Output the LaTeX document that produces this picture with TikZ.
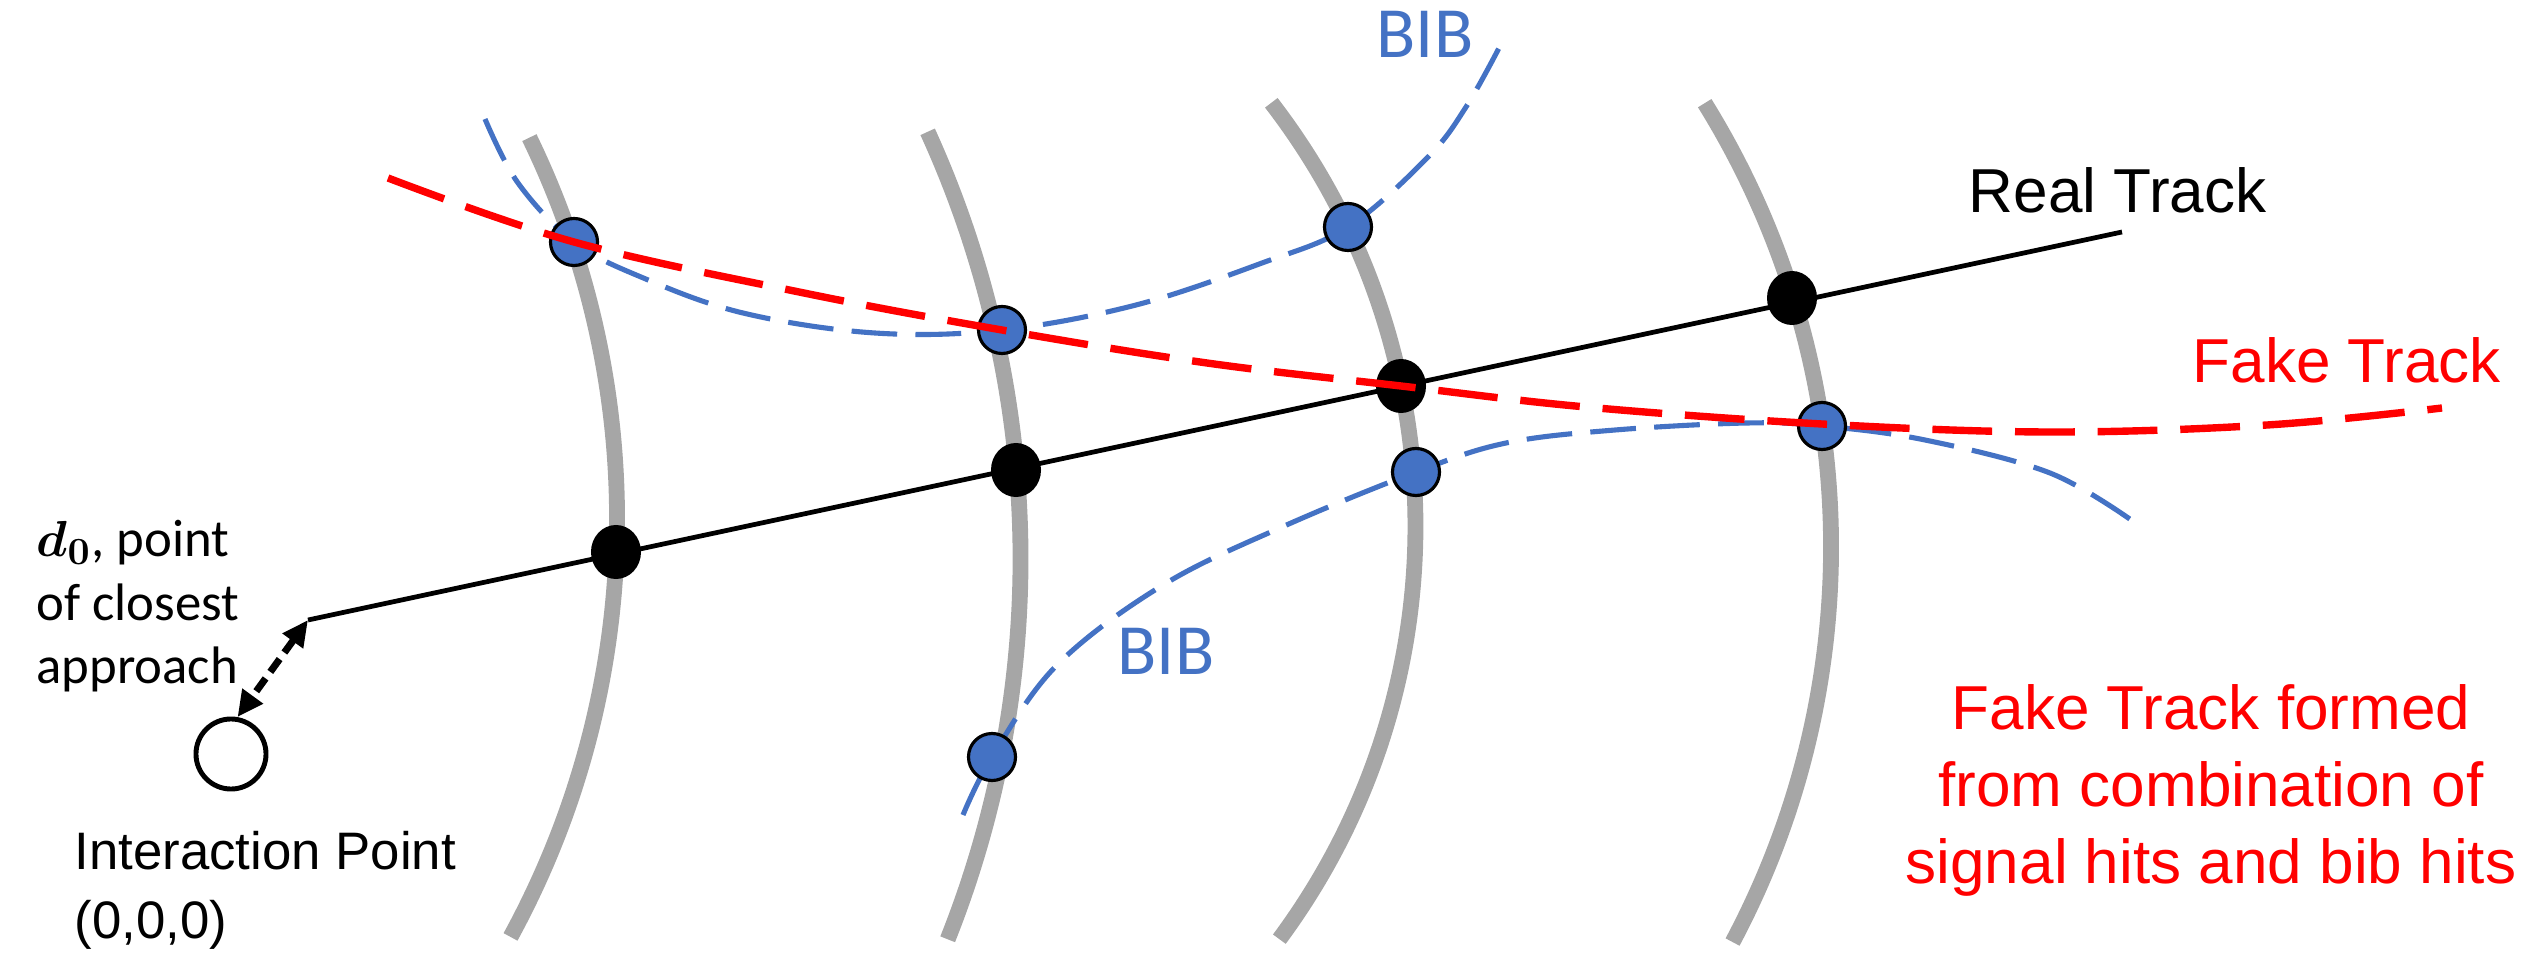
\documentclass[tikz,border=0pt]{standalone}
\usepackage{fontspec}
\usepackage{amsmath}
\usepackage{bm}
\usetikzlibrary{arrows.meta,shapes.geometric}
\newfontfamily\arialf{Liberation Sans}
\newfontfamily\calf{Carlito}
\definecolor{bibblue}{HTML}{4472C4}
\definecolor{layergray}{HTML}{A6A6A6}
\definecolor{fakered}{HTML}{FF0000}
\begin{document}
\begin{tikzpicture}[x=0.01cm,y=-0.01cm,
  layer/.style={draw=layergray,line width=4.5pt},
  realtrack/.style={draw=black,line width=1.35pt},
  faketrack/.style={draw=fakered,line width=2.1pt,dash pattern=on 17pt off 6.5pt},
  bibtrack/.style={draw=bibblue,line width=1.45pt,dash pattern=on 13pt off 5.2pt},
  bibhit/.style={circle,draw=black,fill=bibblue,line width=0.9pt,minimum size=0.47cm,inner sep=0pt},
  sighit/.style={ellipse,fill=black,minimum width=0.5cm,minimum height=0.54cm,inner sep=0pt},
  ipstyle/.style={circle,draw=black,line width=1.4pt,minimum size=0.7cm,inner sep=0pt},
  dcaarrow/.style={line width=2pt,dash pattern=on 4.5pt off 2.3pt,
    arrows={Triangle[length=0.26cm,width=0.24cm]-Triangle[length=0.26cm,width=0.24cm]}},
  lbl/.style={inner sep=0pt,anchor=base west}
]
\useasboundingbox (0,0) rectangle (2539,964);

% detector layers
\coordinate (c1) at (-256,519);
\coordinate (c2) at (-8,559);
\coordinate (c3) at (721.4,526.3);
\coordinate (c4) at (989.2,546.8);
\draw[layer] (c1) ++(25.9:8.726cm) arc[start angle=25.9,end angle=-28.6,radius=8.726cm];
\draw[layer] (c2) ++(24.54:10.28cm) arc[start angle=24.54,end angle=-21.7,radius=10.28cm];
\draw[layer] (c3) ++(37.6:6.937cm) arc[start angle=37.6,end angle=-36.5,radius=6.937cm];
\draw[layer] (c4) ++(31.8:8.414cm) arc[start angle=31.8,end angle=-28.0,radius=8.414cm];

% hit positions
\coordinate (K1) at (616,552);
\coordinate (K2) at (1016,470);
\coordinate (K3) at (1401,386);
\coordinate (K4) at (1792,298);
\coordinate (B1) at (574,242);
\coordinate (B2) at (1002,330);
\coordinate (B3) at (1348,227);
\coordinate (B4) at (1416,472);
\coordinate (B5) at (1822,426);
\coordinate (B6) at (992,757);

% real track
\coordinate (ts) at (308,620);
\coordinate (te) at (2122,232);
\draw[realtrack] (ts) -- (te);

% BIB curves
\draw[bibtrack] plot[smooth,tension=0.6] coordinates {(485,119) (518,183) (B1) (641,277) (743,313) (875,333) (B2) (1136,305) (1262,263) (B3) (1428,157) (1466,107) (1499,48)};
\draw[bibtrack] plot[smooth,tension=0.6] coordinates {(963,815) (B6) (1057,665) (1163,585) (1282,527) (B4) (1506,443) (1615,430) (1747,423) (B5) (1925,440) (2050,473) (2134,522)};

% hits
\node[sighit] (k1) at (K1) {};
\node[sighit] (k2) at (K2) {};
\node[sighit] (k3) at (K3) {};
\node[sighit] (k4) at (K4) {};
\node[bibhit] (b1) at (B1) {};
\node[bibhit] (b2) at (B2) {};
\node[bibhit] (b3) at (B3) {};
\node[bibhit] (b4) at (B4) {};
\node[bibhit] (b5) at (B5) {};
\node[bibhit] (b6) at (B6) {};

% fake track
\draw[faketrack] plot[smooth,tension=0.6] coordinates {(388,178) (B1) (804,293) (B2) (1207,363) (K3) (1586,407) (1822,424) (2050,432) (2267,425) (2442,408)};

% interaction point and d0
\node[ipstyle] (ip) at (231,754) {};
\draw[dcaarrow] (ts) -- (ip.80);

% labels
\node[lbl] (dlabel) at (36,557) {\calf\fontsize{15pt}{17.93pt}\selectfont\begin{tabular}[t]{@{}l@{}}$\bm{d_0}$, point\\of closest\\approach\end{tabular}};
\node[lbl] (iplabel) at (74,869) {\arialf\fontsize{15pt}{19.9pt}\selectfont\begin{tabular}[t]{@{}l@{}}Interaction Point\\(0,0,0)\end{tabular}};
\node[lbl,font=\arialf\fontsize{17.65pt}{21pt}\selectfont] (rtlabel) at (1968,213) {Real Track};
\node[lbl,text=fakered,font=\arialf\fontsize{17.65pt}{21pt}\selectfont] (ftlabel) at (2192,383) {Fake Track};
\node[inner sep=0pt,anchor=base,text=fakered] (note) at (2211,729) {\arialf\fontsize{17.65pt}{21.9pt}\selectfont\begin{tabular}[t]{@{}c@{}}Fake Track formed\\from combination of\\signal hits and bib hits\end{tabular}};
\node[lbl,text=bibblue,font=\calf\fontsize{20.5pt}{24pt}\selectfont] (bibup) at (1376,58) {BIB};
\node[lbl,text=bibblue,font=\calf\fontsize{20.5pt}{24pt}\selectfont] (biblow) at (1117,674) {BIB};
\end{tikzpicture}
\end{document}
